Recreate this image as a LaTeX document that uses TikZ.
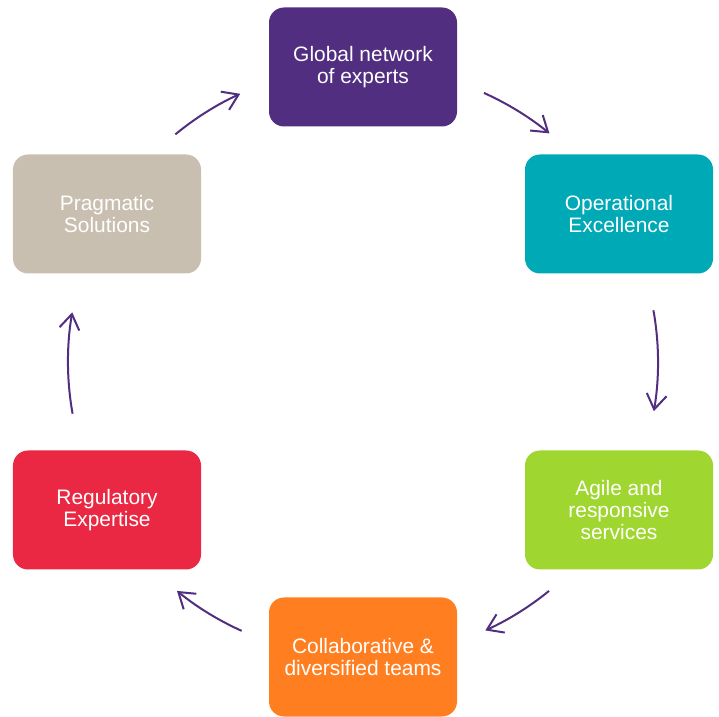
\documentclass[tikz,border=0pt]{standalone}
\usepackage{fontspec}
\setmainfont{Liberation Sans}
\usetikzlibrary{arrows.meta}
\definecolor{deepplum}{HTML}{512E7F}
\definecolor{lagoon}{HTML}{00A9B6}
\definecolor{lime}{HTML}{A0D630}
\definecolor{tangerine}{HTML}{FF7F20}
\definecolor{crimson}{HTML}{EB2843}
\definecolor{sand}{HTML}{C9BFB0}
\tikzset{
  tile/.style={
    rectangle,
    rounded corners=15bp,
    minimum width=188bp,
    minimum height=119bp,
    inner sep=0pt,
    text=white,
    align=center,
    font=\fontsize{21}{22}\selectfont
  },
  loop/.style={-{Straight Barb[length=15bp,width=20bp]},line width=2bp,draw=deepplum}
}
\begin{document}
\begin{tikzpicture}[x=1bp,y=1bp]
    \useasboundingbox (0,0) rectangle (719,717);
    \coordinate (hub) at (363,355);

    \node[tile,fill=deepplum] (global) at (363,650) {Global network\\of experts};
    \node[tile,fill=lagoon] (oper) at (619,503) {Operational\\Excellence};
    \node[tile,fill=lime] (agile) at (619,207) {Agile and\\responsive\\services};
    \node[tile,fill=tangerine] (collab) at (363,60) {Collaborative \&\\diversified teams};
    \node[tile,fill=crimson] (regul) at (107,207) {Regulatory\\Expertise};
    \node[tile,fill=sand] (pragm) at (107,503) {Pragmatic\\Solutions};

    % arcs on the ring through the tile centres
    \coordinate (global-oper) at ([shift={(65.8:295bp)}]hub);
    \coordinate (oper-agile) at ([shift={(10.1:295bp)}]hub);
    \coordinate (agile-collab) at ([shift={(-50.9:295bp)}]hub);
    \coordinate (collab-regul) at ([shift={(-114.3:295bp)}]hub);
    \coordinate (regul-pragm) at ([shift={(190.1:295bp)}]hub);
    \coordinate (pragm-global) at ([shift={(129.5:295bp)}]hub);

    \draw[loop] (global-oper) arc[start angle=65.8,end angle=50.8,radius=295bp];
    \draw[loop] (oper-agile) arc[start angle=10.1,end angle=-9.6,radius=295bp];
    \draw[loop] (agile-collab) arc[start angle=-50.9,end angle=-65.5,radius=295bp];
    \draw[loop] (collab-regul) arc[start angle=-114.3,end angle=-129.1,radius=295bp];
    \draw[loop] (regul-pragm) arc[start angle=190.1,end angle=170.3,radius=295bp];
    \draw[loop] (pragm-global) arc[start angle=129.5,end angle=114.6,radius=295bp];
  \end{tikzpicture}
\end{document}
